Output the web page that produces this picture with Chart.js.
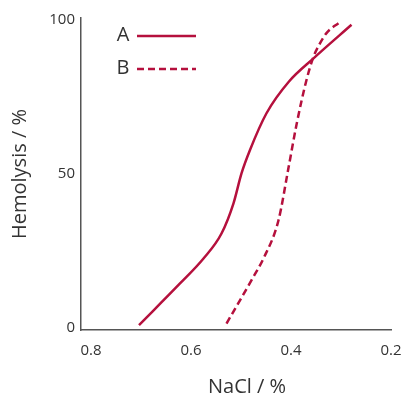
<!DOCTYPE html>
<html lang="en">
<head>
    <meta charset="UTF-8">
    <title>Hemolysis vs NaCl</title>
    <script src="https://cdn.jsdelivr.net/npm/chart.js"></script>
    <style>
        body {
            margin: 0;
            padding: 0;
            background: #fff;
        }
        .chart-box {
            width: 401px;
            height: 398px;
        }
    </style>
</head>
<body>
    <div class="chart-box">
        <canvas id="hemolysis-chart" width="401" height="398"></canvas>
    </div>

    <script>
        // NaCl concentration (%) and hemolysis (%)
        const seriesNames = ['A', 'B'];
        const naclA = [0.704, 0.622, 0.575, 0.539, 0.515, 0.499, 0.482, 0.449, 0.404, 0.355, 0.279];
        const hemolysisA = [1, 14.5, 22.6, 30.7, 40.5, 50.2, 57.8, 69.7, 80, 87.5, 98.4];
        const naclB = [0.529, 0.475, 0.455, 0.425, 0.405, 0.389, 0.369, 0.355, 0.345, 0.329, 0.302];
        const hemolysisB = [1.5, 16.7, 22.6, 35, 52, 66, 80.5, 88, 91.5, 95.7, 99.3];
        const xTicks = [0.8, 0.6, 0.4, 0.2];
        const yTicks = [0, 50, 100];
        const xTitle = 'NaCl / %';

        const crimson = '#b5103d';
        const textColor = '#333';
        const fontFamily = "'Open Sans', 'Noto Sans', sans-serif";

        const toPoints = (xs, ys) => xs.map((x, i) => ({ x: x, y: ys[i] }));

        // legend drawn inside the plot (label first, then the line sample)
        // plus the x title, which sits a bit right of the axis centre
        const extras = {
            id: 'extras',
            afterDatasetsDraw(chart) {
                const ctx = chart.ctx;
                const area = chart.chartArea;
                ctx.save();
                chart.data.datasets.forEach((ds, i) => {
                    const y = area.top + 17 + i * 33;
                    ctx.font = '20px ' + fontFamily;
                    ctx.fillStyle = textColor;
                    ctx.textAlign = 'center';
                    ctx.textBaseline = 'middle';
                    ctx.fillText(ds.label, area.left + 42, y);
                    ctx.strokeStyle = ds.borderColor;
                    ctx.lineWidth = ds.borderWidth;
                    ctx.setLineDash(ds.borderDash || []);
                    ctx.beginPath();
                    ctx.moveTo(area.left + 56, y + 1);
                    ctx.lineTo(area.left + 115, y + 1);
                    ctx.stroke();
                });
                ctx.setLineDash([]);
                ctx.font = '20px ' + fontFamily;
                ctx.fillStyle = textColor;
                ctx.textAlign = 'center';
                ctx.textBaseline = 'middle';
                ctx.fillText(xTitle, area.left + 166, area.bottom + 57);
                ctx.restore();
            }
        };

        const ctx = document.getElementById('hemolysis-chart').getContext('2d');
        const chart = new Chart(ctx, {
            type: 'line',
            data: {
                datasets: [{
                    label: seriesNames[0],
                    data: toPoints(naclA, hemolysisA),
                    borderColor: crimson,
                    borderWidth: 2.5,
                    pointRadius: 0,
                    cubicInterpolationMode: 'monotone',
                    fill: false
                }, {
                    label: seriesNames[1],
                    data: toPoints(naclB, hemolysisB),
                    borderColor: crimson,
                    borderWidth: 2.5,
                    borderDash: [7, 4],
                    pointRadius: 0,
                    cubicInterpolationMode: 'monotone',
                    fill: false
                }]
            },
            options: {
                responsive: false,
                animation: false,
                layout: {
                    padding: { top: 18, right: 10, left: 0, bottom: 0 }
                },
                plugins: {
                    legend: { display: false },
                    tooltip: { enabled: false }
                },
                scales: {
                    x: {
                        type: 'linear',
                        reverse: true,
                        min: 0.2,
                        max: 0.82,
                        afterBuildTicks: (scale) => {
                            scale.ticks = xTicks.map(v => ({ value: v }));
                        },
                        afterFit: (scale) => {
                            scale.height = 68;
                            scale.paddingLeft = 0;
                            scale.paddingRight = 0;
                        },
                        grid: { display: false, drawTicks: false },
                        border: { display: true, color: '#555', width: 1.5 },
                        ticks: {
                            padding: 12,
                            color: textColor,
                            font: { family: fontFamily, size: 15 },
                            maxRotation: 0,
                            callback: (v) => v.toFixed(1)
                        }
                    },
                    y: {
                        min: -0.6,
                        max: 100.6,
                        afterBuildTicks: (scale) => {
                            scale.ticks = yTicks.map(v => ({ value: v }));
                        },
                        afterFit: (scale) => {
                            scale.width = 81;
                            scale.paddingTop = 0;
                            scale.paddingBottom = 0;
                        },
                        grid: { display: false, drawTicks: false },
                        border: { display: true, color: '#555', width: 1.5 },
                        ticks: {
                            padding: 6,
                            color: textColor,
                            font: { family: fontFamily, size: 15 }
                        },
                        title: {
                            display: true,
                            text: 'Hemolysis / %',
                            color: textColor,
                            font: { family: fontFamily, size: 20 },
                            padding: { top: 8, bottom: 0 }
                        }
                    }
                }
            },
            plugins: [extras]
        });
    </script>
</body>
</html>
